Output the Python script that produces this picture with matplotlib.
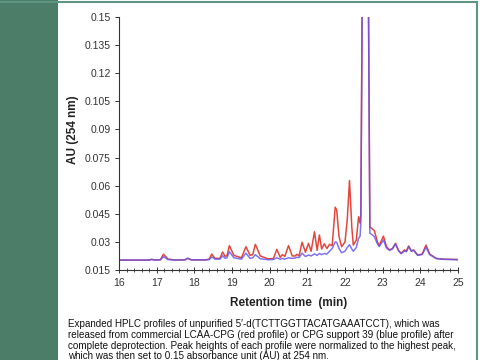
import matplotlib
matplotlib.use("Agg")
import matplotlib.pyplot as plt
from matplotlib.patches import Rectangle
from matplotlib.lines import Line2D
from matplotlib.ticker import MultipleLocator

# retention time (min) and absorbance
rt = [16.0, 16.8, 16.87, 16.95, 17.1, 17.18, 17.3, 17.5, 17.75, 17.82, 17.92, 18.3, 18.4, 18.46, 18.55,
      18.68, 18.75, 18.82, 18.87, 18.93, 19.05, 19.25, 19.37, 19.48, 19.55, 19.62, 19.75, 19.95, 20.1,
      20.19, 20.28, 20.34, 20.4, 20.5, 20.6, 20.68, 20.72, 20.78, 20.86, 20.95, 21.03, 21.1, 21.19, 21.26,
      21.32, 21.38, 21.45, 21.52, 21.59, 21.66, 21.74, 21.78, 21.84, 21.91, 22.0, 22.06, 22.12, 22.18,
      22.22, 22.3, 22.36, 22.4, 22.42, 22.47, 22.61, 22.66, 22.71, 22.78, 22.86, 22.91, 23.02, 23.1,
      23.18, 23.26, 23.34, 23.42, 23.49, 23.58, 23.63, 23.69, 23.76, 23.82, 23.93, 24.05, 24.15, 24.25,
      24.42, 24.6, 25.0]

red_au = [0.0203, 0.0203, 0.0207, 0.0203, 0.0205, 0.0234, 0.0208, 0.0203, 0.0204, 0.0212, 0.0204, 0.0204,
          0.0208, 0.0235, 0.0212, 0.0212, 0.0246, 0.0222, 0.0228, 0.0280, 0.0228, 0.0215, 0.0274, 0.0228,
          0.0232, 0.0287, 0.0225, 0.0210, 0.0211, 0.0260, 0.0218, 0.0232, 0.0222, 0.0280, 0.0225, 0.0225,
          0.0234, 0.0225, 0.0298, 0.0245, 0.0292, 0.0250, 0.0354, 0.0255, 0.0337, 0.0262, 0.0290, 0.0265,
          0.0287, 0.0280, 0.0485, 0.0470, 0.0330, 0.0274, 0.0300, 0.0420, 0.0627, 0.0380, 0.0283, 0.0310,
          0.0434, 0.0400, 0.0450, 0.2000, 0.2000, 0.0380, 0.0372, 0.0360, 0.0300, 0.0280, 0.0331, 0.0275,
          0.0257, 0.0265, 0.0292, 0.0255, 0.0239, 0.0257, 0.0250, 0.0278, 0.0252, 0.0257, 0.0230, 0.0235,
          0.0283, 0.0235, 0.0212, 0.0208, 0.0206]

blue_au = [0.0203, 0.0203, 0.0206, 0.0203, 0.0204, 0.0221, 0.0206, 0.0203, 0.0204, 0.0213, 0.0204, 0.0204,
           0.0206, 0.0220, 0.0208, 0.0208, 0.0226, 0.0212, 0.0215, 0.0248, 0.0215, 0.0208, 0.0240, 0.0212,
           0.0215, 0.0232, 0.0210, 0.0205, 0.0206, 0.0215, 0.0208, 0.0212, 0.0208, 0.0215, 0.0212, 0.0214,
           0.0218, 0.0216, 0.0240, 0.0222, 0.0230, 0.0225, 0.0236, 0.0228, 0.0238, 0.0232, 0.0238, 0.0235,
           0.0250, 0.0265, 0.0300, 0.0298, 0.0265, 0.0242, 0.0250, 0.0270, 0.0285, 0.0262, 0.0250, 0.0270,
           0.0320, 0.0330, 0.0400, 0.2000, 0.2000, 0.0346, 0.0340, 0.0327, 0.0290, 0.0275, 0.0310, 0.0268,
           0.0255, 0.0262, 0.0290, 0.0252, 0.0237, 0.0252, 0.0248, 0.0275, 0.0250, 0.0255, 0.0228, 0.0233,
           0.0271, 0.0232, 0.0211, 0.0207, 0.0205]

yticks = [0.015, 0.03, 0.045, 0.06, 0.075, 0.09, 0.105, 0.12, 0.135, 0.15]
ytick_labels = ["0.015", "0.03", "0.045", "0.06", "0.075", "0.09", "0.105", "0.12", "0.135", "0.15"]
xticks = [16, 17, 18, 19, 20, 21, 22, 23, 24, 25]

caption = ["Expanded HPLC profiles of unpurified 5\u2032-d(TCTTGGTTACATGAAATCCT), which was",
           "released from commercial LCAA-CPG (red profile) or CPG support 39 (blue profile) after",
           "complete deprotection. Peak heights of each profile were normalized to the highest peak,",
           "which was then set to 0.15 absorbance unit (AU) at 254 nm."]

plt.rcParams['font.family'] = ['Liberation Sans', 'DejaVu Sans']

W, H = 485, 360
fig = plt.figure(figsize=(W / 100, H / 100), dpi=100, facecolor='white')

# page decoration: green side band and thin frame
green = '#4b7d69'
fig.patches.append(Rectangle((0, 0), 58 / W, 1, transform=fig.transFigure, facecolor=green, edgecolor='none'))
fig.lines.append(Line2D([0, 477 / W], [1 - 2 / H, 1 - 2 / H], transform=fig.transFigure, color='#5f9580', lw=1.5))
fig.lines.append(Line2D([477 / W, 477 / W], [0, 1 - 2 / H], transform=fig.transFigure, color='#5f9580', lw=1.5))

ax = fig.add_axes([119 / W, 1 - 270 / H, (458 - 119) / W, (270 - 17) / H])
ax.plot(rt, red_au, color='#e2473d', lw=1.1, solid_joinstyle='round')
ax.plot(rt, blue_au, color='#5f52f0', lw=1.1, alpha=0.8, solid_joinstyle='round')

ax.set_xlim(16, 25)
ax.set_ylim(0.015, 0.15)
ax.set_xticks(xticks)
ax.set_xticklabels([str(x) for x in xticks])
ax.xaxis.set_minor_locator(MultipleLocator(0.2))
ax.set_yticks(yticks)
ax.set_yticklabels(ytick_labels)

for s in ['top', 'right']:
    ax.spines[s].set_visible(False)
for s in ['left', 'bottom']:
    ax.spines[s].set_color('#333333')
    ax.spines[s].set_linewidth(0.8)

ax.tick_params(axis='y', which='major', direction='out', length=3, width=0.7, colors='#333333',
               labelsize=7.5, pad=3)
ax.tick_params(axis='x', which='major', direction='inout', length=4, width=0.7, colors='#333333',
               labelsize=7.5, pad=4)
ax.tick_params(axis='x', which='minor', direction='inout', length=3, width=0.6, colors='#333333')

ax.set_xlabel('Retention time  (min)', fontsize=8.5, fontweight='bold', color='#222222', labelpad=6)
fig.text(73 / W, 1 - 130 / H, 'AU (254 nm)', rotation=90, ha='center', va='center',
         fontsize=8.5, fontweight='bold', color='#222222')

for i, line in enumerate(caption):
    fig.text(68 / W, 1 - (324 + 10.8 * i) / H, line, ha='left', va='center', fontsize=7.15, color='#111111')

fig.savefig('out.png', dpi=100)
